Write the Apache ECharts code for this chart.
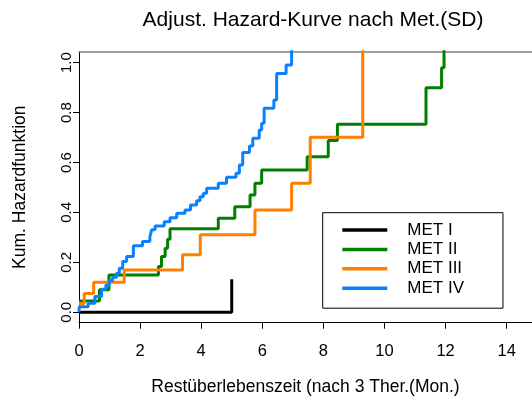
<!DOCTYPE html>
<html>
<head>
<meta charset="utf-8">
<script src="https://cdn.jsdelivr.net/npm/echarts@6/dist/echarts.min.js"></script>
<style>
html,body{margin:0;padding:0;background:#fff;}
#chart{width:532px;height:402px;}
</style>
</head>
<body>
<div id="chart"></div>
<script>
// Data (time in months, cumulative hazard)
const titleText = "Adjust. Hazard-Kurve nach Met.(SD)";
const xLabel = "Restüberlebenszeit (nach 3 Ther.(Mon.)";
const yLabel = "Kum. Hazardfunktion";
const seriesNames = ["MET I", "MET II", "MET III", "MET IV"];
const xTicks = [0, 2, 4, 6, 8, 10, 12, 14];
const yTicks = [0, 0.2, 0.4, 0.6, 0.8, 1.0];

const met1 = [[0, 0], [5.0, 0.132]];
const met2 = [[0, 0.045], [0.67, 0.09], [0.98, 0.149], [2.6, 0.183], [2.7, 0.223], [2.82, 0.256],
  [2.9, 0.292], [2.98, 0.334], [4.56, 0.377], [5.1, 0.423], [5.6, 0.47], [5.76, 0.517],
  [5.98, 0.570], [7.47, 0.623], [8.16, 0.688], [8.46, 0.753], [11.36, 0.90], [11.87, 0.98], [11.95, 1.12]];
const met3 = [[0, 0.035], [0.17, 0.075], [0.48, 0.12], [1.48, 0.169], [3.39, 0.23], [3.97, 0.31],
  [5.76, 0.41], [6.96, 0.517], [7.57, 0.701], [9.29, 1.12]];
const met4 = [[0, 0], [0.01, 0.022], [0.30, 0.036], [0.52, 0.063], [0.74, 0.092], [0.88, 0.109],
  [0.99, 0.127], [1.10, 0.140], [1.23, 0.156], [1.32, 0.176], [1.43, 0.203], [1.56, 0.223],
  [1.78, 0.266], [2.08, 0.283], [2.32, 0.303], [2.38, 0.330], [2.49, 0.346], [2.79, 0.363],
  [2.98, 0.379], [3.2, 0.397], [3.47, 0.410], [3.65, 0.430], [3.85, 0.447], [3.96, 0.463],
  [4.07, 0.477], [4.18, 0.497], [4.56, 0.517], [4.83, 0.541], [5.14, 0.557], [5.25, 0.59],
  [5.36, 0.64], [5.58, 0.666], [5.69, 0.697], [5.90, 0.730], [5.98, 0.757], [6.06, 0.817],
  [6.38, 0.850], [6.47, 0.957], [6.78, 0.991], [6.96, 1.12]];
const seriesData = [met1, met2, met3, met4];
const colors = ["#000000", "#008000", "#ff8000", "#0a80ff"];

const FONT = "Liberation Sans, Arial, Helvetica, sans-serif";
const chart = echarts.init(document.getElementById('chart'), null, {renderer: 'canvas'});

const xMin = 0, xMax = 14.83, yMin = -0.042, yMax = 1.044;

const option = {
  backgroundColor: '#ffffff',
  animation: false,
  textStyle: {fontFamily: FONT},
  title: {
    text: titleText,
    left: 308,
    textAlign: 'center',
    top: 5,
    textStyle: {fontFamily: FONT, fontSize: 21, fontWeight: 'normal', color: '#000'}
  },
  grid: {left: 79, right: 0, top: 51.7, bottom: 79.3, containLabel: false},
  legend: {
    data: seriesNames,
    orient: 'vertical',
    left: 322.7,
    top: 212.7,
    padding: [8.8, 39, 11.5, 19.6],
    icon: 'path://M0,0 L45,0 L45,3.5 L0,3.5 Z',
    itemWidth: 45,
    itemHeight: 14,
    itemGap: 2.4,
    borderColor: '#000',
    borderWidth: 1,
    backgroundColor: '#fff',
    textStyle: {fontFamily: FONT, fontSize: 17, lineHeight: 17, color: '#000', padding: [0, 0, 0, 15]}
  },
  xAxis: [{
    type: 'value', min: xMin, max: xMax,
    name: xLabel, nameLocation: 'middle', nameGap: 55,
    nameTextStyle: {fontFamily: FONT, fontSize: 17.5, color: '#000'},
    axisLine: {show: true, onZero: false, lineStyle: {color: '#000', width: 1}},
    axisTick: {show: true, length: 6, lineStyle: {color: '#000'}, customValues: xTicks},
    axisLabel: {fontFamily: FONT, fontSize: 16.5, color: '#000', margin: 20, customValues: xTicks},
    splitLine: {show: false}
  }, {
    type: 'value', min: xMin, max: xMax, position: 'top',
    axisLine: {show: true, onZero: false, lineStyle: {color: '#808080', width: 1.5}},
    axisTick: {show: false}, axisLabel: {show: false}, splitLine: {show: false}
  }],
  yAxis: {
    type: 'value', min: yMin, max: yMax,
    name: yLabel, nameLocation: 'middle', nameGap: 50,
    nameTextStyle: {fontFamily: FONT, fontSize: 17.5, color: '#000'},
    axisLine: {show: true, onZero: false, lineStyle: {color: '#000', width: 1}},
    axisTick: {show: true, length: 6, lineStyle: {color: '#000'}, customValues: yTicks},
    axisLabel: {fontFamily: FONT, fontSize: 15, color: '#000', margin: 4.5, rotate: 90,
      customValues: yTicks, formatter: v => Number(v).toFixed(1)},
    splitLine: {show: false}
  },
  series: seriesData.map((d, i) => ({
    name: seriesNames[i],
    type: 'line',
    step: 'end',
    xAxisIndex: 0,
    data: d,
    symbol: 'none',
    clip: true,
    color: colors[i],
    lineStyle: {color: colors[i], width: 3},
    z: 2 + i
  }))
};
chart.setOption(option);
</script>
</body>
</html>
